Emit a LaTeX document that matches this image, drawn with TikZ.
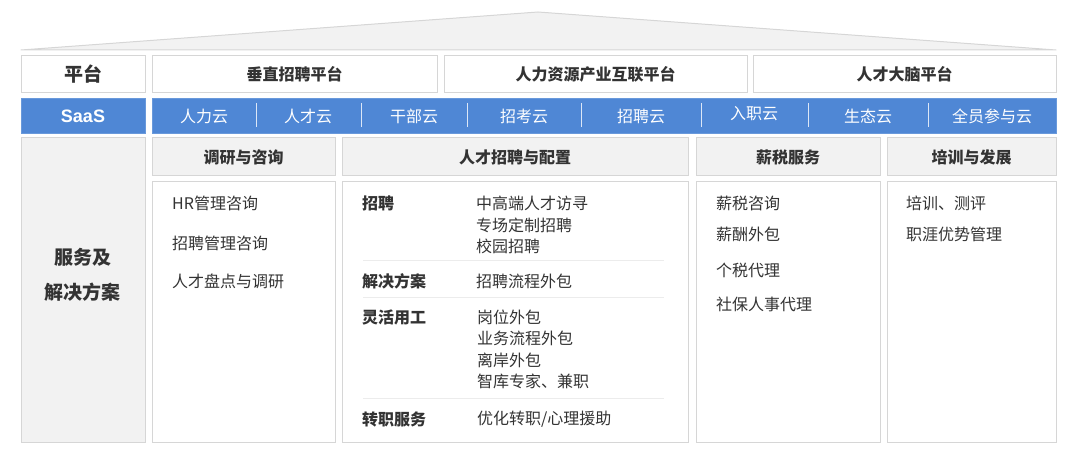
\documentclass[tikz,border=0pt]{standalone}
\usepackage{fontspec}
\setmainfont{Noto Sans CJK SC}
\newfontfamily\saasfont{Liberation Sans}
\usepackage{xcolor}
\usepackage{tikz}
\definecolor{saasblue}{HTML}{4F87D5}
\definecolor{linegray}{HTML}{D6D6D6}
\definecolor{headgray}{HTML}{F2F2F2}
\definecolor{txtgray}{HTML}{333333}
\newcommand{\fsz}[1]{\fontsize{#1}{#1}\selectfont}
\tikzstyle{box_w} = [rectangle, draw=linegray, fill=white, line width=1pt, inner sep=0pt, outer sep=0pt, text=txtgray, font=\bfseries\fsz{16}]
\tikzstyle{box_g} = [rectangle, draw=linegray, fill=headgray, line width=1pt, inner sep=0pt, outer sep=0pt, text=txtgray, font=\bfseries\fsz{16}]
\tikzstyle{box_b} = [rectangle, draw=saasblue!85!white, fill=saasblue, line width=1pt, inner sep=0pt, outer sep=0pt, text=white]
\tikzstyle{itm_t} = [anchor=west, inner sep=0pt, text=txtgray, font=\fsz{16}]
\tikzstyle{lab_t} = [anchor=west, inner sep=0pt, text=txtgray, font=\bfseries\fsz{16}]
\tikzstyle{saas_t} = [inner sep=0pt, text=white, font=\fsz{16}]
\tikzstyle{sep_l} = [draw=white!80!saasblue, line width=1pt]
\tikzstyle{row_l} = [draw=headgray!80!linegray, line width=1pt]

\begin{document}
\begin{tikzpicture}[x=1pt, y=-1pt]
\useasboundingbox (0,0) rectangle (1080,470);
% roof
\filldraw [fill=headgray, draw=linegray, line width=1pt, line join=round] (21,50) -- (538,12) -- (1056,50) -- cycle;

% platform row
\node [box_w, font=\bfseries\fsz{19}, minimum width=124, minimum height=37] (plat) at (83,74.5) {平台};
\node [box_w, minimum width=285, minimum height=37] (plat 1) at (294.5,74.5) {垂直招聘平台};
\node [box_w, minimum width=303, minimum height=37] (plat 2) at (595.5,74.5) {人力资源产业互联平台};
\node [box_w, minimum width=303, minimum height=37] (plat 3) at (904.5,74.5) {人才大脑平台};

% saas row
\node [box_b, font=\saasfont\bfseries\fsz{18}, minimum width=124, minimum height=35] (saas) at (83,116.5) {SaaS};
\node [box_b, minimum width=904, minimum height=35] (saas band) at (604,116.5) {};
\node [saas_t] (cloud 1) at (204,116.5) {人力云};
\node [saas_t] (cloud 2) at (308,116.5) {人才云};
\node [saas_t] (cloud 3) at (414,116.5) {干部云};
\node [saas_t] (cloud 4) at (524,116.5) {招考云};
\node [saas_t] (cloud 5) at (641,116.5) {招聘云};
\node [saas_t] (cloud 6) at (754,113.5) {入职云};
\node [saas_t] (cloud 7) at (868,116.5) {生态云};
\node [saas_t] (cloud 8) at (992,116.5) {全员参与云};
\draw [sep_l] (256,103) -- (256,127) (361,103) -- (361,127) (467,103) -- (467,127)
  (581,103) -- (581,127) (701,103) -- (701,127) (808,103) -- (808,127) (928,103) -- (928,127);

% service row
\node [box_g, minimum width=124, minimum height=305] (svc box) at (83,290.5) {};
\node [align=center, inner sep=0pt, text=txtgray, font=\bfseries\fsz{19}] (svc) at (83,274.5) {服务及\\[16pt]解决方案};

\node [box_g, minimum width=183, minimum height=38] (head 1) at (243.5,157) {调研与咨询};
\node [box_g, minimum width=346, minimum height=38] (head 2) at (515,157) {人才招聘与配置};
\node [box_g, minimum width=184, minimum height=38] (head 3) at (788,157) {薪税服务};
\node [box_g, minimum width=169, minimum height=38] (head 4) at (971.5,157) {培训与发展};

\node [box_w, minimum width=183, minimum height=261] (body 1) at (243.5,312.5) {};
\node [box_w, minimum width=346, minimum height=261] (body 2) at (515,312.5) {};
\node [box_w, minimum width=184, minimum height=261] (body 3) at (788,312.5) {};
\node [box_w, minimum width=169, minimum height=261] (body 4) at (971.5,312.5) {};

% research and consulting
\node [itm_t] (rc 1) at (172,203) {HR管理咨询};
\node [itm_t] (rc 2) at (172,243) {招聘管理咨询};
\node [itm_t] (rc 3) at (172,281) {人才盘点与调研};

% recruiting and staffing
\node [lab_t] (rs lab 1) at (362,203) {招聘};
\node [itm_t] (rs 1) at (476,203) {中高端人才访寻};
\node [itm_t] (rs 2) at (476,225) {专场定制招聘};
\node [itm_t] (rs 3) at (476,246) {校园招聘};
\draw [row_l] (363,261) -- (664,261);
\node [lab_t] (rs lab 2) at (362,281) {解决方案};
\node [itm_t] (rs 4) at (476,281) {招聘流程外包};
\draw [row_l] (363,298) -- (664,298);
\node [lab_t] (rs lab 3) at (362,317) {灵活用工};
\node [itm_t] (rs 5) at (477,317) {岗位外包};
\node [itm_t] (rs 6) at (477,338) {业务流程外包};
\node [itm_t] (rs 7) at (477,360) {离岸外包};
\node [itm_t] (rs 8) at (477,381) {智库专家、兼职};
\draw [row_l] (363,399) -- (664,399);
\node [lab_t] (rs lab 4) at (362,419) {转职服务};
\node [itm_t] (rs 9) at (477,419) {优化转职/心理援助};

% payroll and tax
\node [itm_t] (pt 1) at (716,203) {薪税咨询};
\node [itm_t] (pt 2) at (716,234) {薪酬外包};
\node [itm_t] (pt 3) at (716,270) {个税代理};
\node [itm_t] (pt 4) at (716,304) {社保人事代理};

% training
\node [itm_t] (td 1) at (906,203) {培训、测评};
\node [itm_t] (td 2) at (906,234) {职涯优势管理};
\end{tikzpicture}
\end{document}
